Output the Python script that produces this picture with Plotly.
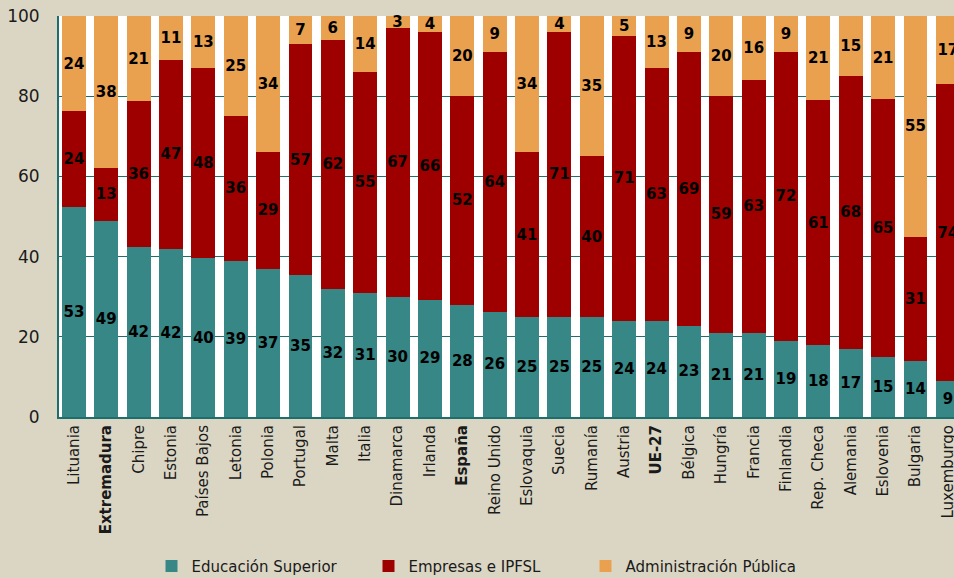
import plotly.graph_objects as go

paises = ["Lituania", "Extremadura", "Chipre", "Estonia", "Países Bajos", "Letonia", "Polonia",
          "Portugal", "Malta", "Italia", "Dinamarca", "Irlanda", "España", "Reino Unido",
          "Eslovaquia", "Suecia", "Rumanía", "Austria", "UE-27", "Bélgica", "Hungría",
          "Francia", "Finlandia", "Rep. Checa", "Alemania", "Eslovenia", "Bulgaria", "Luxemburgo"]
destacados = ["Extremadura", "España", "UE-27"]

educacion = [53, 49, 42, 42, 40, 39, 37, 35, 32, 31, 30, 29, 28, 26, 25, 25, 25, 24, 24, 23,
             21, 21, 19, 18, 17, 15, 14, 9]
empresas = [24, 13, 36, 47, 48, 36, 29, 57, 62, 55, 67, 66, 52, 64, 41, 71, 40, 71, 63, 69,
            59, 63, 72, 61, 68, 65, 31, 74]
administracion = [24, 38, 21, 11, 13, 25, 34, 7, 6, 14, 3, 4, 20, 9, 34, 4, 35, 5, 13, 9,
                  20, 16, 9, 21, 15, 21, 55, 17]

y_ticks = [0, 20, 40, 60, 80, 100]

# shares are rounded; bars are drawn as shares of their own total (100 %)
totales = [a + b + c for a, b, c in zip(educacion, empresas, administracion)]

ticktext = [f"<b>{p}</b>" if p in destacados else p for p in paises]

FONT = "DejaVu Sans"
BG = "#DBD6C4"
TEAL = "#368786"
RED = "#9E0000"
ORANGE = "#E9A14F"
GRID = "#1D6E6C"

fig = go.Figure()
for name, vals, col in [("Educación Superior", educacion, TEAL),
                        ("Empresas e IPFSL", empresas, RED),
                        ("Administración Pública", administracion, ORANGE)]:
    fig.add_trace(go.Bar(
        x=paises, y=[v * 100 / t for v, t in zip(vals, totales)], name=name,
        marker=dict(color=col, line=dict(width=0)),
        text=[str(v) for v in vals],
        textposition="inside", insidetextanchor="middle", textangle=0,
        constraintext="none",
        insidetextfont=dict(family=FONT, size=15, color="black", weight="bold"),
        cliponaxis=False,
        hoverinfo="x+name+text",
    ))

fig.update_layout(
    barmode="stack",
    bargap=0.26,
    width=954, height=578,
    margin=dict(l=59, r=0, t=16, b=161, autoexpand=False),
    paper_bgcolor=BG,
    plot_bgcolor="white",
    font=dict(family=FONT, size=15, color="#1a1a1a"),
    showlegend=True,
    legend=dict(orientation="h", xref="container", yref="container",
                x=0.5, xanchor="center", y=0.049, yanchor="top",
                font=dict(family=FONT, size=15, color="#1a1a1a"),
                bgcolor="rgba(0,0,0,0)", traceorder="normal",
                itemwidth=30, entrywidth=172),
    xaxis=dict(
        range=[-0.46, 27.19], automargin=False,
        tickmode="array", tickvals=paises, ticktext=ticktext,
        tickangle=-90, showgrid=False,
        showline=True, linecolor=GRID, linewidth=2,
        ticks="", tickfont=dict(family=FONT, size=15, color="#1a1a1a"),
    ),
    yaxis=dict(
        range=[0, 100], tickvals=y_ticks, automargin=False,
        showgrid=True, gridcolor=GRID, gridwidth=1.2,
        showline=True, linecolor=GRID, linewidth=2,
        zeroline=False, ticks="", ticklabelstandoff=14,
        tickfont=dict(family=FONT, size=17, color="#1a1a1a"),
    ),
)

fig.write_html(
    "out.html",
    config={"displayModeBar": False},
    post_script=("document.body.style.margin='0';"
                 "document.body.style.overflow='hidden';"
                 f"document.body.style.background='{BG}';"),
)
